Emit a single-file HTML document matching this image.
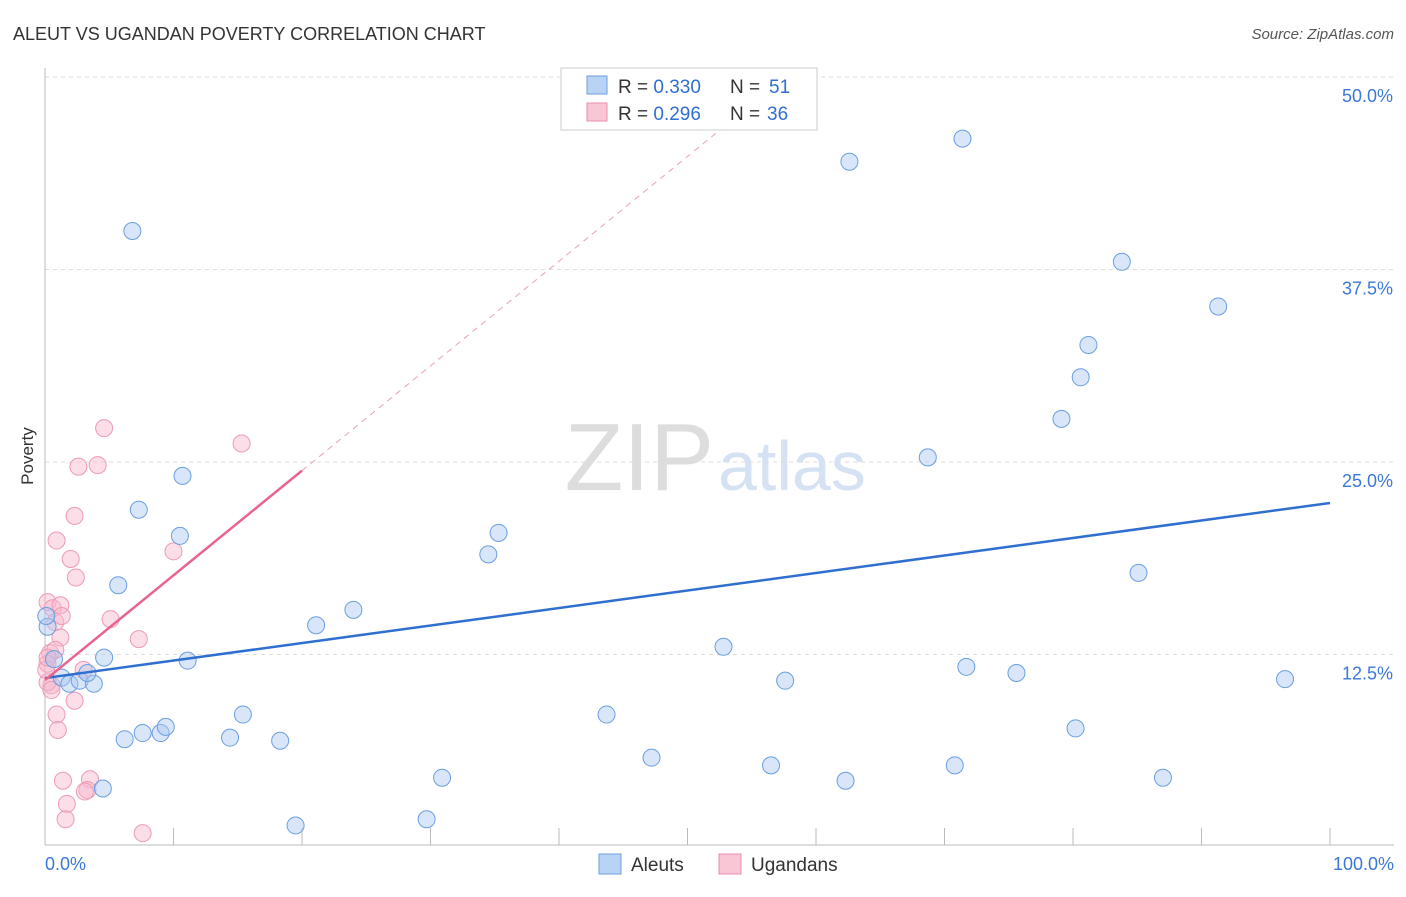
<!DOCTYPE html>
<html><head><meta charset="utf-8"><style>
body{margin:0;background:#fff;font-family:"Liberation Sans",sans-serif}
svg text{font-family:"Liberation Sans",sans-serif}
</style></head><body>
<svg id="c" width="1406" height="892">
<text x="13" y="40" font-size="18" fill="#333">ALEUT VS UGANDAN POVERTY CORRELATION CHART</text>
<text x="1394" y="39" font-size="15" fill="#555" font-style="italic" text-anchor="end">Source: ZipAtlas.com</text>
<text x="33" y="456" font-size="17" fill="#333" transform="rotate(-90 33 456)" text-anchor="middle">Poverty</text>
<text x="714" y="490" font-size="96" fill="#ddd" text-anchor="end" font-family="Liberation Serif">ZIP</text>
<text x="718" y="490" font-size="70" fill="#d4e2f4">atlas</text>
<g id="grid"></g><g id="marks"></g>
<g>
<rect x="561" y="68" width="256" height="62" fill="#fff" stroke="#ccc"/>
<rect x="587" y="76" width="20" height="18" fill="#b9d3f5" stroke="#6a9fe0"/>
<rect x="587" y="103" width="20" height="18" fill="#f9c6d6" stroke="#ea8fad"/>
<text x="618" y="93" font-size="19" fill="#333">R = <tspan fill="#2f6fd0">0.330</tspan></text>
<text x="730" y="93" font-size="19" fill="#333">N =</text>
<text x="769" y="93" font-size="19" fill="#2f6fd0">51</text>
<text x="618" y="120" font-size="19" fill="#333">R = <tspan fill="#2f6fd0">0.296</tspan></text>
<text x="730" y="120" font-size="19" fill="#333">N =</text>
<text x="767" y="120" font-size="19" fill="#2f6fd0">36</text>
</g>
<g>
<rect x="599" y="854" width="22" height="20" fill="#b9d3f5" stroke="#6a9fe0"/>
<text x="631" y="871" font-size="19" fill="#333">Aleuts</text>
<rect x="719" y="854" width="22" height="20" fill="#f9c6d6" stroke="#ea8fad"/>
<text x="751" y="871" font-size="19" fill="#333">Ugandans</text>
</g>
</svg>
<script>
const blueX=[6.8,7.3,10.7,10.5,5.7,4.6,11.1,1.3,1.9,2.7,3.8,3.3,0.7,0.2,0.1,6.2,7.6,9.0,9.4,14.4,15.4,18.3,4.5,19.5,21.1,24.0,29.7,30.9,34.5,35.3,43.7,47.2,52.8,56.5,57.6,62.3,62.6,68.7,70.8,71.4,71.7,75.6,79.1,80.2,80.6,81.2,83.8,85.1,87.0,91.3,96.5];
const blueY=[40.0,21.9,24.1,20.2,17.0,12.3,12.1,11.0,10.6,10.8,10.6,11.3,12.2,14.3,15.0,7.0,7.4,7.4,7.8,7.1,8.6,6.9,3.8,1.4,14.4,15.4,1.8,4.5,19.0,20.4,8.6,5.8,13.0,5.3,10.8,4.3,44.5,25.3,5.3,46.0,11.7,11.3,27.8,7.7,30.5,32.6,38.0,17.8,4.5,35.1,10.9];
const pinkX=[0.2,0.6,1.2,0.8,1.2,0.4,0.8,0.2,0.5,0.2,0.9,1.0,2.3,3.0,0.9,2.0,2.4,2.3,2.6,4.1,4.6,5.1,7.3,10.0,15.3,1.4,3.5,3.3,3.1,1.7,1.6,7.6,0.5,0.1,1.3,0.2];
const pinkY=[15.9,15.5,15.7,14.6,13.6,12.6,12.8,11.9,10.5,10.7,8.6,7.6,9.5,11.5,19.9,18.7,17.5,21.5,24.7,24.8,27.2,14.8,13.5,19.2,26.2,4.3,4.4,3.7,3.6,2.8,1.8,0.9,10.2,11.5,15.0,12.3];
const xTicks=[0,10,20,30,40,50,60,70,80,90,100];
const yTicks=[12.5,25,37.5,50];
const blueLine=[10.97,22.34], pinkLine=[10.84,0.68];
const X=v=>45+v*12.85, Y=v=>847-v*15.4;
const NS="http://www.w3.org/2000/svg";
function mk(t,a,p){const e=document.createElementNS(NS,t);for(const k in a)e.setAttribute(k,a[k]);p.appendChild(e);return e;}
const g=document.getElementById('grid'), m=document.getElementById('marks');
for(const t of yTicks){
 const l=mk('line',{x1:45,x2:1394,y1:Y(t),y2:Y(t),stroke:'#ddd','stroke-dasharray':'4 4'},g);
 
 
 const tx=mk('text',{x:1393,y:Y(t)+25,'font-size':18,fill:'#3b78d8','text-anchor':'end'},g);tx.textContent=t.toFixed(1)+'%';
 
 
}
mk('line',{x1:45,x2:45,y1:68,y2:845,stroke:'#bbb'},g);
mk('line',{x1:45,x2:1394,y1:845,y2:845,stroke:'#bbb'},g);
for(const t of xTicks){const l=mk('line',{x1:X(t),x2:X(t),y1:828,y2:845,stroke:'#bbb'},g);
 
 }
let a=mk('text',{x:45,y:870,'font-size':18,fill:'#3b78d8'},g);a.textContent='0.0%';


a=mk('text',{x:1394,y:870,'font-size':18,fill:'#3b78d8','text-anchor':'end'},g);a.textContent='100.0%';


for(let i=0;i<pinkX.length;i++){const c=mk('circle',{cx:X(pinkX[i]),cy:Y(pinkY[i]),r:8.5,fill:'rgba(247,182,204,0.45)',stroke:'#ec9bb6','stroke-width':1},m);
 
 }
for(let i=0;i<blueX.length;i++){const c=mk('circle',{cx:X(blueX[i]),cy:Y(blueY[i]),r:8.5,fill:'rgba(170,200,242,0.45)',stroke:'#6a9fe0','stroke-width':1},m);
 
 }
let ln=mk('line',{x1:X(0),y1:Y(blueLine[0]),x2:X(100),y2:Y(blueLine[1]),stroke:'#2f6fd0','stroke-width':2.5},m);


ln=mk('line',{x1:X(0),y1:Y(pinkLine[0]),x2:X(20),y2:Y(pinkLine[0]+20*pinkLine[1]),stroke:'#e8648f','stroke-width':2.5},m);


const xe=(50-pinkLine[0])/pinkLine[1];
ln=mk('line',{x1:X(20),y1:Y(pinkLine[0]+20*pinkLine[1]),x2:X(xe),y2:Y(50),stroke:'#e8a0b8','stroke-width':1,'stroke-dasharray':'6 5'},m);


</script>
</body></html>
